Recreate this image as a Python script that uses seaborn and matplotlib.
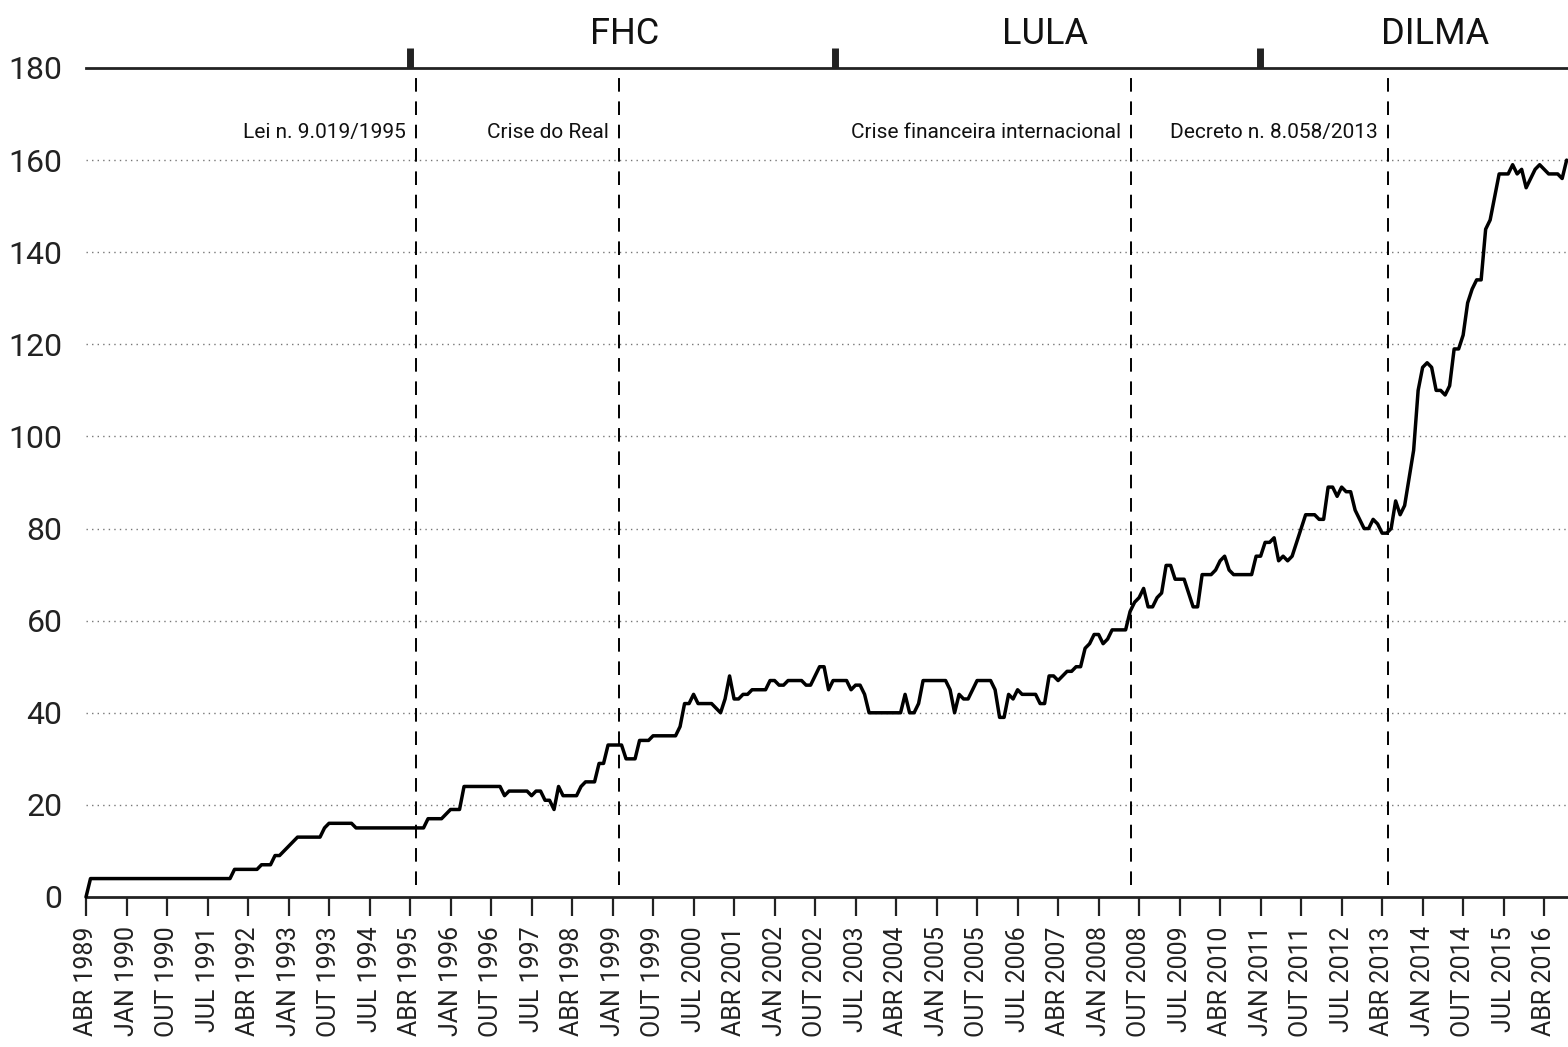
import matplotlib
matplotlib.use("Agg")
import matplotlib.pyplot as plt
import seaborn as sns
import pandas as pd

# indice mensal, ABR 1989 a SET 2016
indice = [
    0, 4, 4, 4, 4, 4, 4, 4, 4,                                # 1989 (abr-dez)
    4, 4, 4, 4, 4, 4, 4, 4, 4, 4, 4, 4,                       # 1990
    4, 4, 4, 4, 4, 4, 4, 4, 4, 4, 4, 4,                       # 1991
    6, 6, 6, 6, 6, 6, 7, 7, 7, 9, 9, 10,                      # 1992
    11, 12, 13, 13, 13, 13, 13, 13, 15, 16, 16, 16,           # 1993
    16, 16, 16, 15, 15, 15, 15, 15, 15, 15, 15, 15,           # 1994
    15, 15, 15, 15, 15, 15, 15, 17, 17, 17, 17, 18,           # 1995
    19, 19, 19, 24, 24, 24, 24, 24, 24, 24, 24, 24,           # 1996
    22, 23, 23, 23, 23, 23, 22, 23, 23, 21, 21, 19,           # 1997
    24, 22, 22, 22, 22, 24, 25, 25, 25, 29, 29, 33,           # 1998
    33, 33, 33, 30, 30, 30, 34, 34, 34, 35, 35, 35,           # 1999
    35, 35, 35, 37, 42, 42, 44, 42, 42, 42, 42, 41,           # 2000
    40, 43, 48, 43, 43, 44, 44, 45, 45, 45, 45, 47,           # 2001
    47, 46, 46, 47, 47, 47, 47, 46, 46, 48, 50, 50,           # 2002
    45, 47, 47, 47, 47, 45, 46, 46, 44, 40, 40, 40,           # 2003
    40, 40, 40, 40, 40, 44, 40, 40, 42, 47, 47, 47,           # 2004
    47, 47, 47, 45, 40, 44, 43, 43, 45, 47, 47, 47,           # 2005
    47, 45, 39, 39, 44, 43, 45, 44, 44, 44, 44, 42,           # 2006
    42, 48, 48, 47, 48, 49, 49, 50, 50, 54, 55, 57,           # 2007
    57, 55, 56, 58, 58, 58, 58, 62, 64, 65, 67, 63,           # 2008
    63, 65, 66, 72, 72, 69, 69, 69, 66, 63, 63, 70,           # 2009
    70, 70, 71, 73, 74, 71, 70, 70, 70, 70, 70, 74,           # 2010
    74, 77, 77, 78, 73, 74, 73, 74, 77, 80, 83, 83,           # 2011
    83, 82, 82, 89, 89, 87, 89, 88, 88, 84, 82, 80,           # 2012
    80, 82, 81, 79, 79, 80, 86, 83, 85, 91, 97, 110,          # 2013
    115, 116, 115, 110, 110, 109, 111, 119, 119, 122, 129, 132,  # 2014
    134, 134, 145, 147, 152, 157, 157, 157, 159, 157, 158, 154,  # 2015
    156, 158, 159, 158, 157, 157, 157, 156, 160,              # 2016 (jan-set)
]

meses = ["JAN", "FEV", "MAR", "ABR", "MAI", "JUN",
         "JUL", "AGO", "SET", "OUT", "NOV", "DEZ"]

# eventos (linhas tracejadas), em meses desde ABR 1989
eventos = ["Lei n. 9.019/1995", "Crise do Real",
           "Crise financeira internacional", "Decreto n. 8.058/2013"]
eventos_mes = [73.3, 118.4, 232.2, 289.3]

# governos
governos = ["FHC", "LULA", "DILMA"]
governos_mes = [119.6, 213.0, 299.8]
posse_mes = [72.0, 166.4, 260.9]


def rotulo(m):
    i = 3 + m
    return f"{meses[i % 12]} {1989 + i // 12}"


df = pd.DataFrame({"mes": range(len(indice)), "indice": indice})

sns.set_theme(style="white")
plt.rcParams["font.family"] = ["Roboto", "DejaVu Sans"]

fig = plt.figure(figsize=(15.68, 10.47), dpi=100)
ax = fig.add_axes([86 / 1568, 150 / 1047, 1482 / 1568, 829 / 1047])

sns.lineplot(data=df, x="mes", y="indice", ax=ax, color="black",
             linewidth=2.5, clip_on=False, zorder=5)

ax.set_xlim(0, 329.3)
ax.set_ylim(0, 180)

# grade pontilhada
for v in range(20, 180, 20):
    ax.axhline(v, color="#777777", linestyle=(0, (1, 3)), linewidth=1.0, zorder=1)

# linhas dos eventos
for nome, m in zip(eventos, eventos_mes):
    ax.plot([m, m], [2.5, 180], color="black", linestyle=(0, (7, 5)),
            linewidth=1.4, zorder=2)
    ax.text(m - 2.2, 165.9, nome, ha="right", va="center", fontsize=15,
            color="#111111")

# marcas de posse e nomes dos governos
for m in posse_mes:
    ax.plot([m, m], [180, 184.4], color="#222222", linewidth=5,
            solid_capstyle="butt", clip_on=False)
for nome, m in zip(governos, governos_mes):
    ax.text(m, 187.3, nome, ha="center", va="center", fontsize=26,
            color="#111111", clip_on=False)

# eixos
for lado in ["left", "right"]:
    ax.spines[lado].set_visible(False)
ax.spines["top"].set_color("#222222")
ax.spines["top"].set_linewidth(2)
ax.spines["bottom"].set_color("#222222")
ax.spines["bottom"].set_linewidth(2)

ticks = list(range(0, 325, 9))
ax.set_xticks(ticks)
ax.set_xticklabels([rotulo(m) for m in ticks], rotation=90, fontsize=18,
                   color="#222222")
ax.tick_params(axis="x", direction="out", length=14, width=1.6,
               color="#222222", pad=7, bottom=True)
ax.set_yticks(range(0, 181, 20))
ax.tick_params(axis="y", length=0, pad=17, labelsize=23, labelcolor="#222222")
ax.set_xlabel("")
ax.set_ylabel("")

fig.savefig("out.png", dpi=100)
